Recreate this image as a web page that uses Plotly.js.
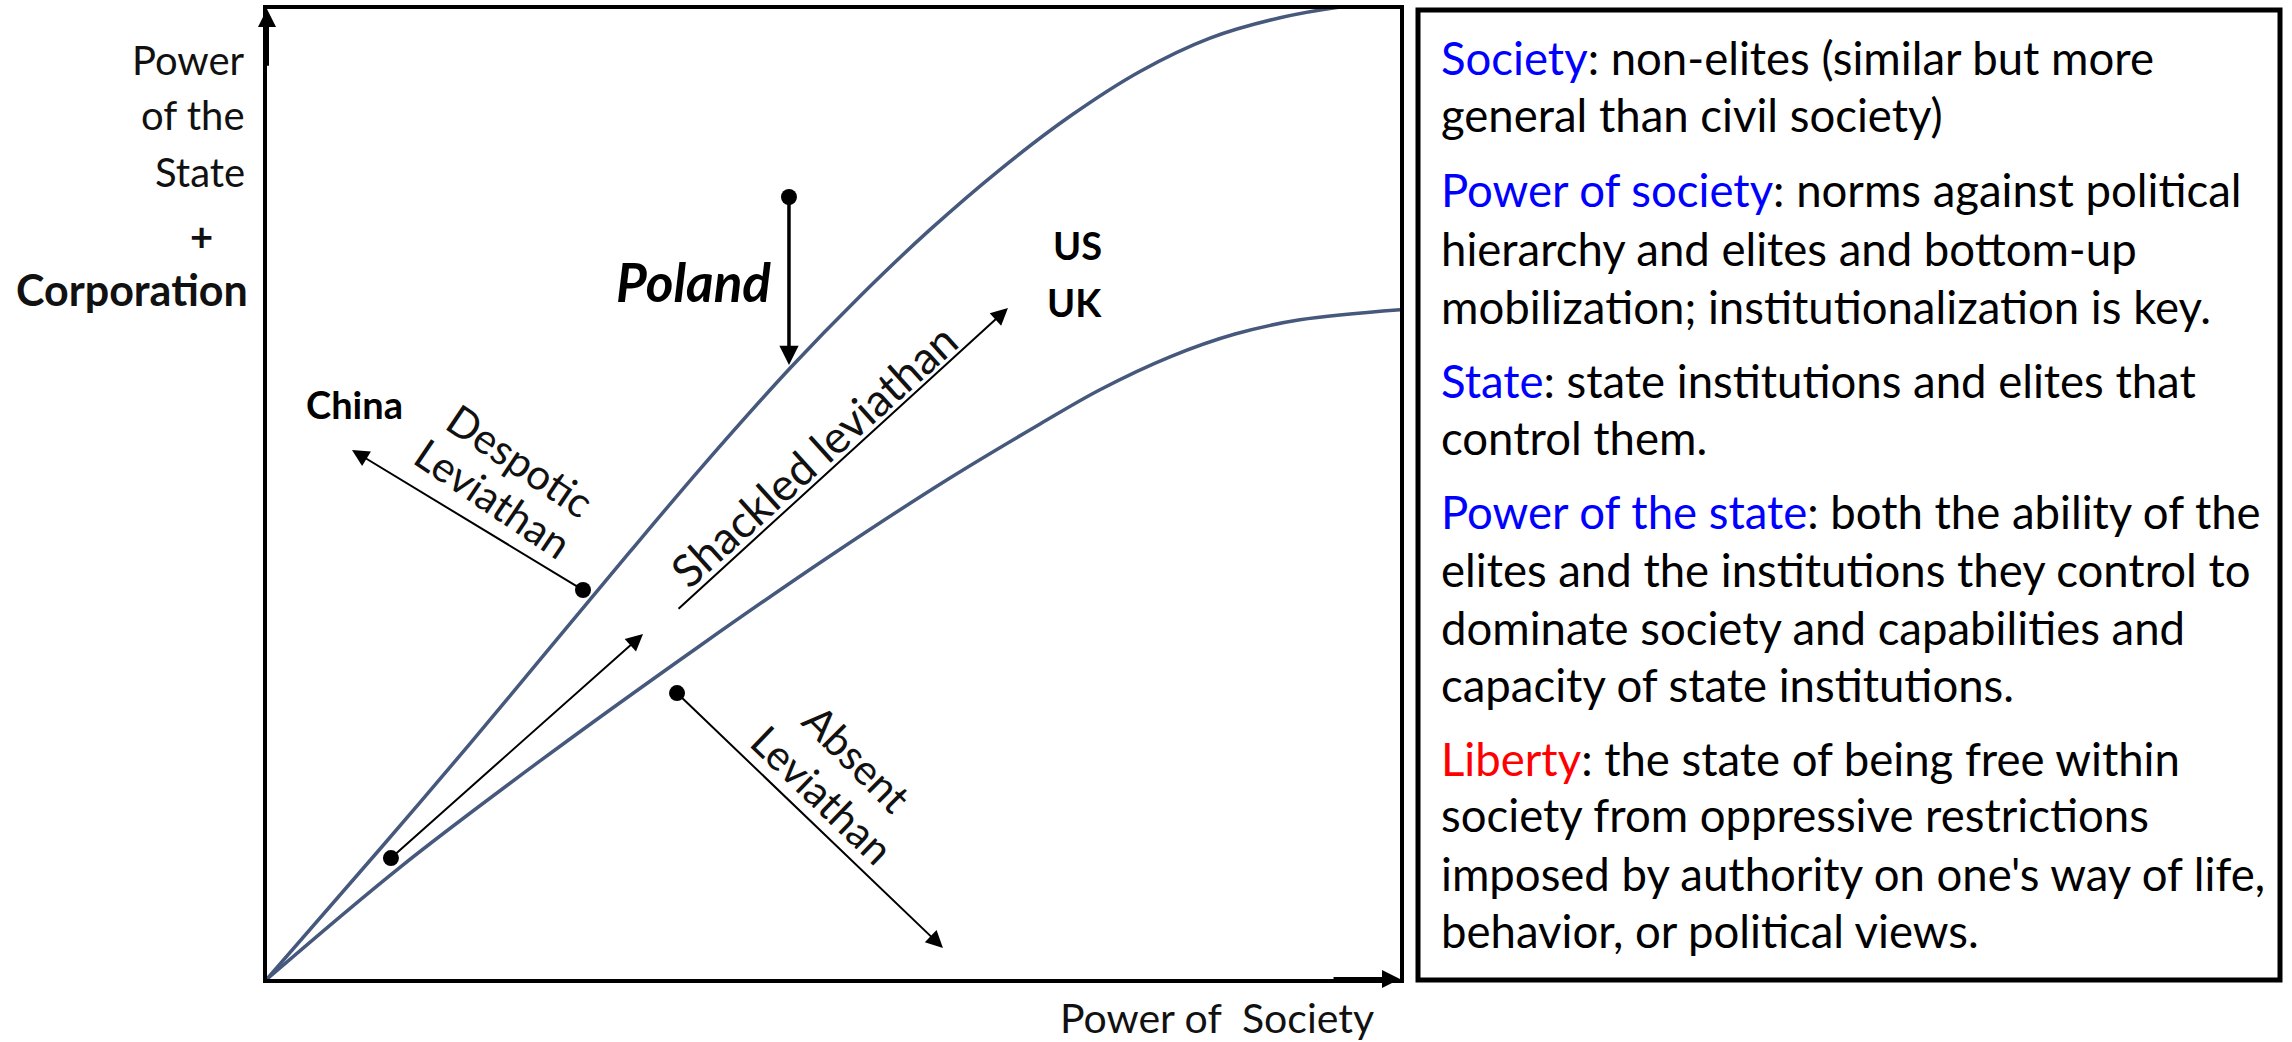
<!DOCTYPE html>
<html>
<head>
<meta charset="utf-8">
<script src="https://cdn.plot.ly/plotly-3.0.1.min.js"></script>
<style>html,body{margin:0;padding:0;background:#fff;}#chart{width:2292px;height:1042px;}</style>
</head>
<body>
<div id="chart"></div>
<script>
// ---- data (axis units 0..100 on both axes) ----
const upperX = [0, 9.97, 17.92, 24.98, 32.04, 38.22, 46.16, 52.34, 58.52, 64.70, 70.87, 77.05, 83.23, 89.41, 94.70, 98.23];
const upperY = [0, 13.40, 24.26, 34.15, 44.05, 52.57, 62.96, 70.39, 77.25, 83.45, 88.94, 93.56, 97.0, 99.1, 100.2, 100.6];
const lowerX = [0, 11.74, 24.10, 38.22, 49.69, 60.28, 68.23, 73.52, 79.70, 85.44, 91.17, 100];
const lowerY = [0, 11.52, 22.48, 34.36, 43.61, 51.65, 57.22, 60.75, 64.14, 66.49, 67.96, 69.0];

// arrows: tail -> head
const arrowNames = ["Poland", "Despotic", "ShackledLow", "ShackledHigh", "Absent"];
const arrowTailX = [46.07, 27.89, 10.94, 36.19, 36.19];
const arrowTailY = [80.62, 40.10, 12.47, 38.04, 29.48];
const arrowHeadX = [46.07, 7.50, 33.19, 65.40, 59.66];
const arrowHeadY = [63.30, 54.54, 35.57, 69.18, 3.20];

// dots at arrow origins
const dotX = [46.07, 27.89, 10.94, 36.19];
const dotY = [80.62, 40.10, 12.47, 29.48];

// place labels
const placeLabels = ["Poland", "China", "US", "UK"];
const placeX = [37.6, 7.7, 71.5, 71.3];
const placeY = [71.9, 59.3, 75.7, 69.8];

// regime labels (one entry per text line)
const regimeLabels = ["Despotic", "Leviathan", "Shackled leviathan", "Absent", "Leviathan"];
const regimeX = [22.33, 19.95, 48.28, 52.07, 49.07];
const regimeY = [53.51, 49.59, 54.0, 22.78, 18.97];
const regimeAngle = [34, 34, -42, 45, 44];

const yTitleLines = ["Power", "of the", "State", "+", "Corporation"];
const xTitle = "Power of&nbsp; Society";

const BLUE = "#0000ff", RED = "#ff0000";
const defLines = [
  `<span style="color:${BLUE}">Society</span>: non-elites (similar but more`,
  `general than civil society)`,
  `<span style="color:${BLUE}">Power of society</span>: norms against political`,
  `hierarchy and elites and bottom-up`,
  `mobilization; institutionalization is key.`,
  `<span style="color:${BLUE}">State</span>: state institutions and elites that`,
  `control them.`,
  `<span style="color:${BLUE}">Power of the state</span>: both the ability of the`,
  `elites and the institutions they control to`,
  `dominate society and capabilities and`,
  `capacity of state institutions.`,
  `<span style="color:${RED}">Liberty</span>: the state of being free within`,
  `society from oppressive restrictions`,
  `imposed by authority on one's way of life,`,
  `behavior, or political views.`
];
const defLineY = [57, 115, 189, 248, 306, 380, 437, 512, 569, 627, 684, 758, 815, 873, 930];

// ---- layout helpers (pixel -> paper) ----
const W = 2292, H = 1042;
const ML = 267, MR = 892, MT = 9, MB = 63;
const PW = W - ML - MR, PH = H - MT - MB;
const px = v => (v - ML) / PW;
const py = v => (H - MB - v) / PH;

const FONT = "Lato, 'Open Sans', 'DejaVu Sans', sans-serif";
const CURVE = "#46597c";

function draw() {
  const traces = [
    {x: upperX, y: upperY, mode: "lines", line: {color: CURVE, width: 3.5, shape: "spline", smoothing: 0.9}, hoverinfo: "skip"},
    {x: lowerX, y: lowerY, mode: "lines", line: {color: CURVE, width: 3.5, shape: "spline", smoothing: 1}, hoverinfo: "skip"},
    {x: dotX, y: dotY, mode: "markers", marker: {color: "#000", size: 16}, hoverinfo: "skip", cliponaxis: false}
  ];

  const ann = [];
  arrowNames.forEach((n, i) => {
    const thick = n === "Poland";
    ann.push({
      x: arrowHeadX[i], y: arrowHeadY[i], ax: arrowTailX[i], ay: arrowTailY[i],
      xref: "x", yref: "y", axref: "x", ayref: "y", text: "", showarrow: true,
      arrowhead: 2, arrowsize: thick ? 1.1 : 1.7, arrowwidth: thick ? 3.5 : 2, arrowcolor: "#000", standoff: 0, startstandoff: 0
    });
  });
  // axis arrows
  ann.push({x: 100, y: 0, ax: 94, ay: 0, xref: "x", yref: "y", axref: "x", ayref: "y", text: "", showarrow: true,
    arrowhead: 2, arrowsize: 0.9, arrowwidth: 4, arrowcolor: "#000", standoff: 0});
  ann.push({x: 0, y: 100, ax: 0, ay: 94, xref: "x", yref: "y", axref: "x", ayref: "y", text: "", showarrow: true,
    arrowhead: 2, arrowsize: 0.9, arrowwidth: 4, arrowcolor: "#000", standoff: 0});

  const placeStyle = {
    Poland: {size: 53, weight: "bold", style: "italic"},
    China: {size: 38, weight: "bold", style: "normal"},
    US: {size: 38, weight: "bold", style: "normal"},
    UK: {size: 38, weight: "bold", style: "normal"}
  };
  placeLabels.forEach((t, i) => {
    const s = placeStyle[t];
    ann.push({x: placeX[i], y: placeY[i], xref: "x", yref: "y", text: s.style === "italic" ? `<i>${t}</i>` : t,
      showarrow: false, xanchor: "center", yanchor: "middle",
      font: {family: FONT, size: s.size, color: "#000", weight: s.weight, style: s.style}});
  });
  const regimeSize = [42, 42, 45, 42, 42];
  regimeLabels.forEach((t, i) => {
    ann.push({x: regimeX[i], y: regimeY[i], xref: "x", yref: "y", text: t, textangle: regimeAngle[i],
      showarrow: false, xanchor: "center", yanchor: "middle",
      font: {family: FONT, size: regimeSize[i], color: "#111"}});
  });
  const yPos = [[247, 60, "right", 40, "normal"], [247, 115, "right", 40, "normal"], [247, 172, "right", 40, "normal"],
                [201, 236, "center", 40, "bold"], [250, 290, "right", 43, "bold"]];
  yTitleLines.forEach((t, i) => {
    const p = yPos[i];
    ann.push({x: px(p[0]), y: py(p[1]), xref: "paper", yref: "paper", text: t, showarrow: false,
      xanchor: p[2], yanchor: "middle", font: {family: FONT, size: p[3], color: "#111", weight: p[4]}});
  });
  ann.push({x: px(1217), y: py(1017), xref: "paper", yref: "paper", text: xTitle, showarrow: false,
    xanchor: "center", yanchor: "middle", font: {family: FONT, size: 41, color: "#111"}});
  defLines.forEach((t, i) => {
    ann.push({x: px(1439), y: py(defLineY[i]), xref: "paper", yref: "paper", text: t, showarrow: false,
      xanchor: "left", yanchor: "middle", align: "left", font: {family: FONT, size: 45.5, color: "#000"}});
  });

  const layout = {
    width: W, height: H,
    margin: {l: ML, r: MR, t: MT, b: MB, pad: 0},
    paper_bgcolor: "#fff", plot_bgcolor: "#fff",
    showlegend: false,
    xaxis: {range: [0, 100], showgrid: false, zeroline: false, showticklabels: false, ticks: "",
      showline: true, linecolor: "#000", linewidth: 4, mirror: true, fixedrange: true},
    yaxis: {range: [0, 100], showgrid: false, zeroline: false, showticklabels: false, ticks: "",
      showline: true, linecolor: "#000", linewidth: 4, mirror: true, fixedrange: true},
    shapes: [{type: "rect", xref: "paper", yref: "paper", x0: px(1418), x1: px(2280), y0: py(980), y1: py(10),
      line: {color: "#000", width: 5}, fillcolor: "rgba(0,0,0,0)"}],
    annotations: ann
  };

  Plotly.newPlot("chart", traces, layout, {staticPlot: true, displayModeBar: false});
}

const fontSpecs = ["400 40px Lato", "700 40px Lato", "italic 400 40px Lato", "italic 700 40px Lato"];
Promise.all(fontSpecs.map(f => document.fonts.load(f))).catch(() => {}).then(draw);
</script>
</body>
</html>
